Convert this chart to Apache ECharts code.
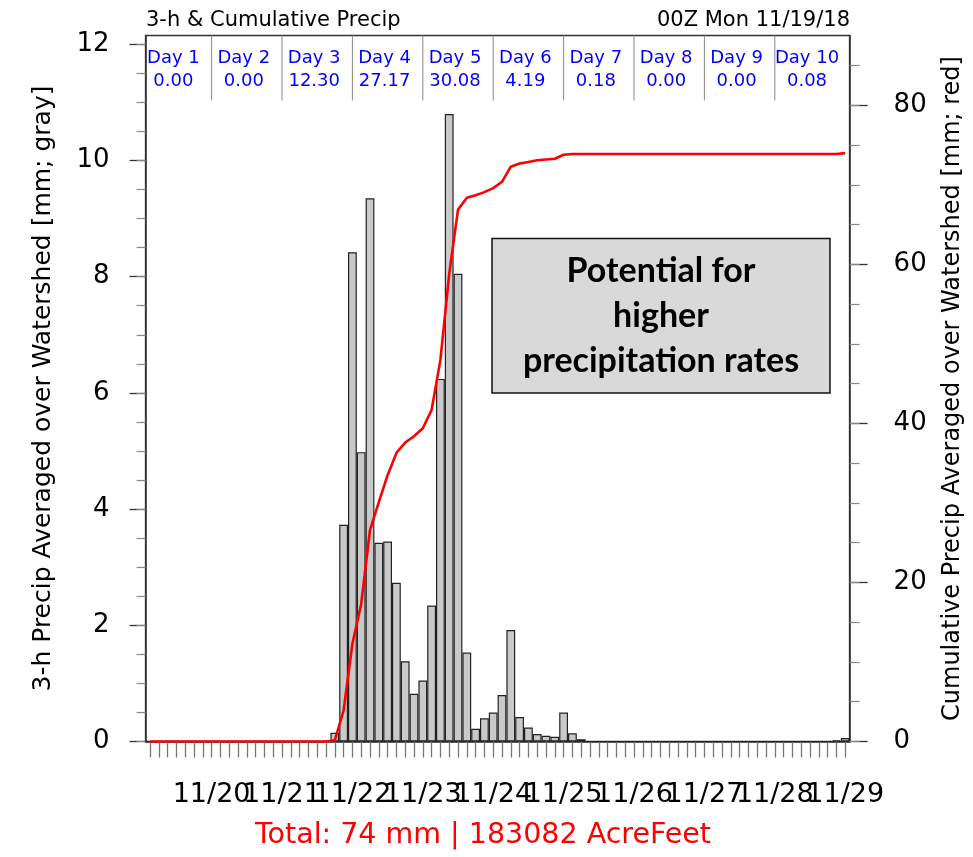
<!DOCTYPE html>
<html><head><meta charset="utf-8">
<script src="https://cdn.jsdelivr.net/npm/echarts@6/dist/echarts.min.js"></script>
<style>html,body{margin:0;padding:0;background:#fff}#c{width:973px;height:857px}</style>
</head><body><div id="c"></div>
<script>
const dayNames = ['Day 1','Day 2','Day 3','Day 4','Day 5','Day 6','Day 7','Day 8','Day 9','Day 10'];
const dayTotals = [0.00, 0.00, 12.30, 27.17, 30.08, 4.19, 0.18, 0.00, 0.00, 0.08];
const dateLabels = ['11/20','11/21','11/22','11/23','11/24','11/25','11/26','11/27','11/28','11/29'];
// 3-hourly precip (mm), 11/19 03Z ... 11/29 00Z
const precip3h = [
  0,0,0,0,0,0,0,0,
  0,0,0,0,0,0,0,0,
  0,0,0,0,0,0.15,3.73,8.42,
  4.98,9.35,3.42,3.44,2.73,1.38,0.82,1.05,
  2.34,6.24,10.80,8.05,1.53,0.22,0.40,0.50,
  0.80,1.92,0.42,0.24,0.13,0.10,0.08,0.50,
  0.14,0.04,0,0,0,0,0,0,
  0,0,0,0,0,0,0,0,
  0,0,0,0,0,0,0,0,
  0,0,0,0,0,0,0.02,0.06
];
// cumulative precip (mm)
const cumulative = [
  0,0,0,0,0,0,0,0,
  0,0,0,0,0,0,0,0,
  0,0,0,0,0,0.15,3.9,12.3,
  17.3,26.6,30.1,33.5,36.3,37.6,38.4,39.4,
  41.7,48.0,58.8,66.9,68.4,68.7,69.1,69.6,
  70.4,72.3,72.7,72.9,73.1,73.2,73.3,73.8,
  73.9,73.9,73.9,73.9,73.9,73.9,73.9,73.9,
  73.9,73.9,73.9,73.9,73.9,73.9,73.9,73.9,
  73.9,73.9,73.9,73.9,73.9,73.9,73.9,73.9,
  73.9,73.9,73.9,73.9,73.9,73.9,73.9,74.0
];
const leftTicks = [0,2,4,6,8,10,12];
const rightTicks = [0,20,40,60,80];
const leftMax = 12.15, rightMax = 88.8;

const categories = precip3h.map((_, k) => {
  const h = 3 * (k + 1);
  return '11/' + (19 + Math.floor(h / 24)) + ' ' + String(h % 24).padStart(2, '0') + 'Z';
});
const leftMinor = []; for (let v = 0; v <= 12; v += 0.5) leftMinor.push(v);
const rightMinor = []; for (let v = 0; v <= 85; v += 5) rightMinor.push(v);

const FONT = '"DejaVu Sans", "Liberation Sans", sans-serif';
const chart = echarts.init(document.getElementById('c'), null, {renderer: 'canvas'});
chart.setOption({
  animation: false,
  backgroundColor: '#fff',
  textStyle: {fontFamily: FONT},
  grid: {left: 145.6, right: 123.4, top: 35.5, bottom: 115.5, show: true,
         borderColor: '#333', borderWidth: 1.5, containLabel: false, outerBoundsMode: 'none'},
  xAxis: [{
    type: 'category', data: categories, boundaryGap: true,
    axisLine: {show: true, lineStyle: {color: '#333', width: 1.5}},
    axisTick: {show: true, interval: 0, alignWithLabel: true, length: 16, lineStyle: {color: '#777', width: 1.3}},
    axisLabel: {show: false},
    splitLine: {show: false}
  }],
  yAxis: [{
    type: 'value', position: 'left', min: 0, max: leftMax,
    name: '3-h Precip Averaged over Watershed [mm; gray]', nameLocation: 'middle', nameGap: 90,
    nameTextStyle: {fontSize: 25, color: '#000', fontFamily: FONT},
    axisLine: {show: true, lineStyle: {color: '#333', width: 1.5}},
    axisTick: {show: true, customValues: leftTicks, length: 16, lineStyle: {color: '#333', width: 1.3}},
    axisLabel: {customValues: leftTicks, fontSize: 26, color: '#000', margin: 36, fontFamily: FONT},
    splitLine: {show: false}
  }, {
    type: 'value', position: 'right', min: 0, max: rightMax,
    name: 'Cumulative Precip Averaged over Watershed [mm; red]', nameLocation: 'middle', nameGap: 91,
    nameTextStyle: {fontSize: 24, color: '#000', fontFamily: FONT},
    axisLine: {show: true, lineStyle: {color: '#333', width: 1.5}},
    axisTick: {show: true, customValues: rightTicks, length: 18, lineStyle: {color: '#333', width: 1.3}},
    axisLabel: {customValues: rightTicks, fontSize: 26, color: '#000', margin: 44, fontFamily: FONT},
    splitLine: {show: false}
  }, {
    type: 'value', position: 'left', min: 0, max: leftMax,
    axisLine: {show: false}, axisLabel: {show: false}, splitLine: {show: false},
    axisTick: {show: true, customValues: leftMinor, length: 9, lineStyle: {color: '#888', width: 1.2}}
  }, {
    type: 'value', position: 'right', min: 0, max: rightMax,
    axisLine: {show: false}, axisLabel: {show: false}, splitLine: {show: false},
    axisTick: {show: true, customValues: rightMinor, length: 10, lineStyle: {color: '#888', width: 1.2}}
  }],
  series: [{
    type: 'bar', name: '3-h', data: precip3h, xAxisIndex: 0, yAxisIndex: 0,
    barCategoryGap: '0%', z: 2,
    itemStyle: {color: '#c9c9c9', borderColor: '#222', borderWidth: 1.2}
  }, {
    type: 'line', name: 'Cumulative', data: cumulative, xAxisIndex: 0, yAxisIndex: 1,
    symbol: 'none', z: 3, lineStyle: {color: '#ff0000', width: 2.6}
  }, {
    type: 'custom', name: 'days', xAxisIndex: 0, yAxisIndex: 0, z: 5, clip: false,
    data: dayNames.map((n, i) => [i, 0]),
    renderItem: function (params, api) {
      const d = api.value(0);
      const cx = api.coord([8 * d + 3, 0])[0];
      const right = api.coord([8 * d + 7, 0])[0];
      const top = params.coordSys.y;
      const bottom = params.coordSys.y + params.coordSys.height;
      const children = [
        {type: 'text', style: {text: dayNames[d], x: cx - 3, y: top + 22.5, align: 'center', verticalAlign: 'middle',
          fill: '#0000ff', font: '18px ' + FONT}},
        {type: 'text', style: {text: dayTotals[d].toFixed(2), x: cx - 3, y: top + 45.5, align: 'center', verticalAlign: 'middle',
          fill: '#0000ff', font: '18px ' + FONT}},
        {type: 'text', style: {text: dateLabels[d], x: right, y: bottom + 53, align: 'center', verticalAlign: 'middle',
          fill: '#000', font: '27px ' + FONT}}
      ];
      if (d < dayNames.length - 1) {
        children.push({type: 'line', shape: {x1: right, y1: top, x2: right, y2: top + 65},
          style: {stroke: '#888', lineWidth: 1}});
      }
      return {type: 'group', children: children};
    }
  }],
  graphic: [
    {type: 'text', left: 146, top: 10, style: {text: '3-h & Cumulative Precip', font: '21px ' + FONT, fill: '#000'}},
    {type: 'text', right: 123, top: 10, style: {text: '00Z Mon 11/19/18', font: '21px ' + FONT, fill: '#000'}},
    {type: 'text', x: 483, y: 836, style: {text: 'Total: 74 mm | 183082 AcreFeet', font: '28.5px ' + FONT,
      fill: '#ff0000', align: 'center', verticalAlign: 'middle'}},
    {type: 'rect', z: 10, shape: {x: 492, y: 238.5, width: 338, height: 154.5},
      style: {fill: '#d9d9d9', stroke: '#111', lineWidth: 1.5}},
    {type: 'text', z: 11, x: 661, y: 316, style: {text: 'Potential for\nhigher\nprecipitation rates',
      font: 'bold 34px Lato, "Open Sans", sans-serif', lineHeight: 45, fill: '#000', align: 'center', verticalAlign: 'middle'}}
  ]
});
</script>
</body></html>
